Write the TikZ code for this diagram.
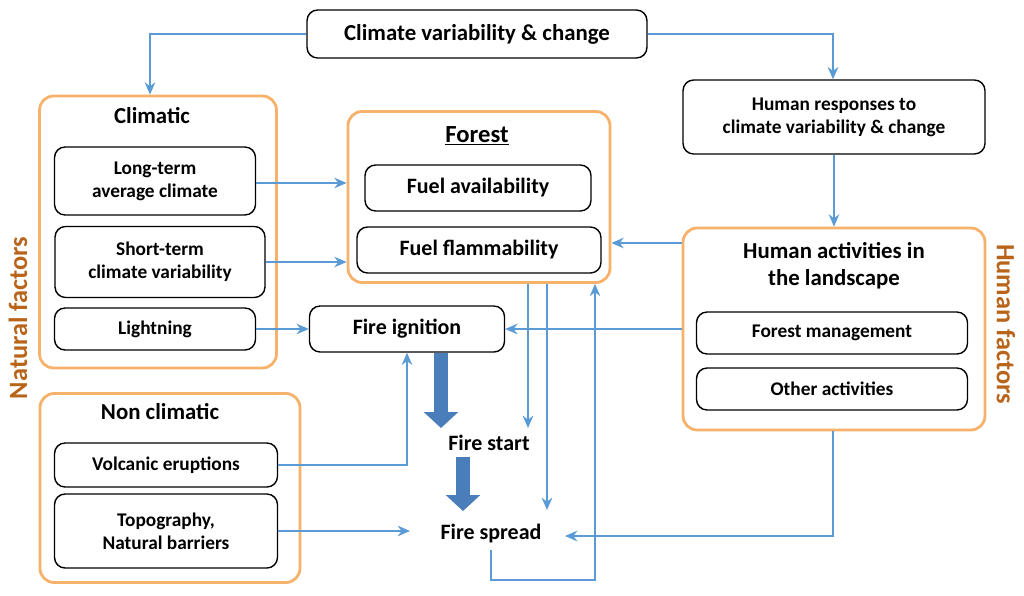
\documentclass[tikz,border=0pt]{standalone}
\usepackage{fontspec}
\setmainfont{Carlito}
\usetikzlibrary{positioning,arrows.meta}
\definecolor{linkblue}{HTML}{5B9BD5}
\definecolor{fatblue}{HTML}{4A7EBB}
\definecolor{frame}{HTML}{F6B26B}
\definecolor{sidetxt}{HTML}{B8651B}
\tikzset{
  box/.style={rectangle, rounded corners=6pt, draw, thick, align=center, font=\bfseries\fontsize{11}{13}\selectfont},
  group/.style={rectangle, rounded corners=8pt, draw=frame, line width=1.6pt},
  link/.style={-{Stealth[length=7pt,width=6pt]}, line width=1.1pt, color=linkblue},
  fat/.style={-{Triangle[length=9pt,width=19pt]}, line width=8pt, color=fatblue},
}
\begin{document}
\begin{tikzpicture}[x=0.02cm, y=-0.02cm]
    \useasboundingbox (0,0) rectangle (1024,595);
    %% Top
    \node[box, minimum width=340\pgflinewidth, font=\bfseries\fontsize{13}{15}\selectfont, minimum width=6.8cm, minimum height=0.96cm] (clim) at (477,34) {Climate variability \& change};
    \node[box, minimum width=6.04cm, minimum height=1.48cm] (resp) at (834,117) {Human responses to\\climate variability \& change};
    %% Climatic group
    \node[group, minimum width=4.74cm, minimum height=5.44cm] (climatic) at (158,232) {};
    \node[font=\bfseries\fontsize{13}{15}\selectfont] (climlbl) at (152,116) {Climatic};
    \node[box, minimum width=4.02cm, minimum height=1.36cm] (long) at (155,181) {Long-term\\average climate};
    \node[box, minimum width=4.2cm, minimum height=1.42cm] (short) at (160,262) {Short-term\\climate variability};
    \node[box, minimum width=4.02cm, minimum height=0.84cm] (light) at (155,329) {Lightning};
    %% Non climatic group
    \node[group, minimum width=5.2cm, minimum height=3.78cm] (nonclim) at (170,488) {};
    \node[font=\bfseries\fontsize{13}{15}\selectfont] (nonlbl) at (160,412) {Non climatic};
    \node[box, minimum width=4.46cm, minimum height=0.88cm] (volc) at (166,465) {Volcanic eruptions};
    \node[box, minimum width=4.46cm, minimum height=1.48cm] (topo) at (166,531) {Topography,\\Natural barriers};
    %% Forest group
    \node[group, minimum width=5.24cm, minimum height=3.42cm] (forest) at (479,197) {};
    \node[font=\bfseries\fontsize{14}{16}\selectfont] (forlbl) at (477,136) {\underline{Forest}};
    \node[box, font=\bfseries\fontsize{12.5}{15}\selectfont, minimum width=4.52cm, minimum height=0.92cm] (avail) at (478,188) {Fuel availability};
    \node[box, font=\bfseries\fontsize{12.5}{15}\selectfont, minimum width=4.88cm, minimum height=0.92cm] (flam) at (479,250) {Fuel flammability};
    %% Human group
    \node[group, minimum width=6.04cm, minimum height=4.04cm] (human) at (834,329) {};
    \node[align=center, font=\bfseries\fontsize{13}{15.5}\selectfont] (humlbl) at (834,266) {Human activities in\\the landscape};
    \node[box, minimum width=5.42cm, minimum height=0.84cm] (mgmt) at (832,333) {Forest management};
    \node[box, minimum width=5.42cm, minimum height=0.84cm] (other) at (832,389) {Other activities};
    %% Fire
    \node[box, font=\bfseries\fontsize{12.5}{15}\selectfont, minimum width=3.9cm, minimum height=0.92cm] (ign) at (407,329) {Fire ignition};
    \node[font=\bfseries\fontsize{12.5}{15}\selectfont] (start) at (489,443) {Fire start};
    \node[font=\bfseries\fontsize{12.5}{15}\selectfont] (spread) at (491,534) {Fire spread};
    %% Side labels
    \node[rotate=90, text=sidetxt, font=\bfseries\fontsize{15}{17}\selectfont] (natf) at (18,318) {Natural factors};
    \node[rotate=-90, text=sidetxt, font=\bfseries\fontsize{15}{17}\selectfont] (humf) at (1006,324) {Human factors};
    %% Links
    \coordinate (c1) at (150,34); \coordinate (c2) at (833,34);
    \draw[link] (clim.west) -- (c1) -- (climatic.north -| c1);
    \draw[link] (clim.east) -- (c2) -- (resp.north -| c2);
    \draw[link] (resp) -- (human);
    \draw[link] (long.east |- 0,183) -- (forest.west |- 0,183);
    \draw[link] (short.east) -- (forest.west |- short.east);
    \draw[link] (light) -- (ign);
    \draw[link] (human.west |- 0,243) -- (forest.east |- 0,243);
    \draw[link] (human.west |- ign) -- (ign.east);
    \coordinate (v1) at (407,465);
    \draw[link] (volc.east) -- (v1) -- (ign.south -| v1);
    \draw[link] (topo.east) -- (410,531);
    \coordinate (h1) at (833,536);
    \draw[link] (human.south -| h1) -- (h1) -- (565,536);
    \draw[link] (forest.south -| 528,0) -- (528,428);
    \draw[link] (forest.south -| 547,0) -- (547,510);
    \coordinate (s1) at (491,580); \coordinate (s2) at (595,580);
    \draw[link] (spread.south -| s1) -- (s1) -- (s2) -- (forest.south -| s2);
    %% Fat arrows
    \draw[fat] (ign.south -| 441,0) -- (441,428);
    \draw[fat] (463,457) -- (463,511);
\end{tikzpicture}
\end{document}
